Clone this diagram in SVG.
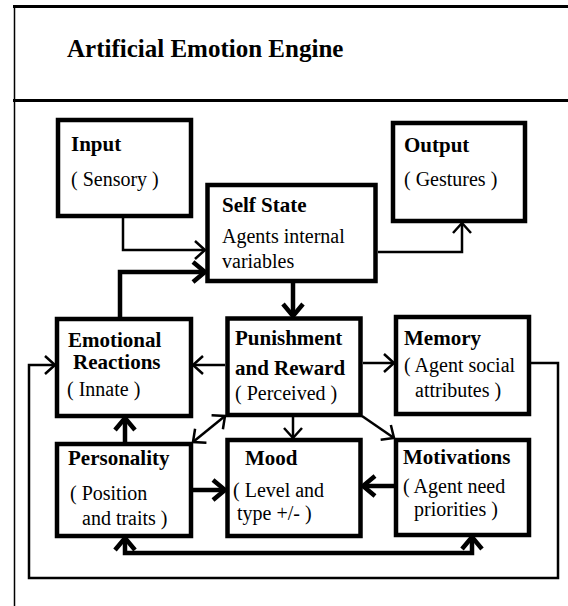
<svg xmlns="http://www.w3.org/2000/svg" width="568" height="606" viewBox="0 0 568 606">
<style>
.box{fill:#fff;stroke:#000;stroke-width:4.5}
.b{font-family:"Liberation Serif","Times New Roman",serif;font-weight:bold;font-size:21px;fill:#000}
.r{font-family:"Liberation Serif","Times New Roman",serif;font-size:20px;fill:#000}
.thin{fill:none;stroke:#000;stroke-width:2.5}
.thick{fill:none;stroke:#000;stroke-width:4.5}
</style>
<defs>
<marker id="at" markerUnits="userSpaceOnUse" viewBox="-12 -11 14 22" refX="0" refY="0" markerWidth="14" markerHeight="22" orient="auto-start-reverse">
<path d="M-10,-9 L0,0 L-10,9" fill="none" stroke="#000" stroke-width="2.5"/>
</marker>
<marker id="aT" markerUnits="userSpaceOnUse" viewBox="-14 -12 16 24" refX="0" refY="0" markerWidth="16" markerHeight="24" orient="auto-start-reverse">
<path d="M-12,-10 L0,0 L-12,10" fill="none" stroke="#000" stroke-width="4.5"/>
</marker>
</defs>
<rect width="568" height="606" fill="#fff"/>
<g id="frame">
<line x1="13" y1="6.5" x2="568" y2="6.5" stroke="#000" stroke-width="3"/>
<line x1="13" y1="100.5" x2="568" y2="100.5" stroke="#000" stroke-width="3"/>
<line x1="14.5" y1="5" x2="14.5" y2="606" stroke="#000" stroke-width="1.5"/>
<text x="67" y="57" font-family="Liberation Serif,Times New Roman,serif" font-weight="bold" font-size="25">Artificial Emotion Engine</text>
</g>
<g id="connectors">
<path class="thin" d="M123,218 V250 H205" marker-end="url(#at)"/>
<path class="thick" d="M120,317 V272 H205" marker-end="url(#aT)"/>
<path class="thin" d="M378,252 H462 V223" marker-end="url(#at)"/>
<path class="thick" d="M293,283 V316" marker-end="url(#aT)"/>
<path class="thin" d="M225,365 H193" marker-end="url(#at)"/>
<path class="thin" d="M363,363 H394" marker-end="url(#at)"/>
<path class="thin" d="M531,363 H558 V578 H29 V365 H55" marker-end="url(#at)"/>
<path class="thick" d="M125,442 V418" marker-end="url(#aT)"/>
<path class="thin" d="M225,416 L193,442" marker-start="url(#at)" marker-end="url(#at)"/>
<path class="thin" d="M293,417 V438" marker-end="url(#at)"/>
<path class="thin" d="M362,416 L394,438" marker-end="url(#at)"/>
<path class="thick" d="M193,490 H225" marker-end="url(#aT)"/>
<path class="thick" d="M394,486 H363" marker-end="url(#aT)"/>
<path class="thick" d="M125,538 V553 H472 V537" marker-start="url(#aT)" marker-end="url(#aT)"/>
</g>
<g id="input"><rect class="box" x="58" y="120" width="133" height="96"/>
<text class="b" x="71" y="151">Input</text><text class="r" x="71" y="186">( Sensory )</text></g>
<g id="output"><rect class="box" x="393" y="123" width="132" height="98"/>
<text class="b" x="404" y="152">Output</text><text class="r" x="404" y="186">( Gestures )</text></g>
<g id="self-state"><rect class="box" x="207.5" y="185" width="168" height="96"/>
<text class="b" x="222" y="212">Self State</text><text class="r" x="222" y="243">Agents internal</text><text class="r" x="222" y="268">variables</text></g>
<g id="emotional-reactions"><rect class="box" x="57" y="319" width="134" height="97"/>
<text class="b" x="68" y="347">Emotional</text><text class="b" x="73" y="369">Reactions</text><text class="r" x="67" y="396">( Innate )</text></g>
<g id="punishment-reward"><rect class="box" x="227.5" y="318.5" width="133" height="96.5"/>
<text class="b" x="235" y="345">Punishment</text><text class="b" x="235" y="375">and Reward</text><text class="r" x="235" y="400">( Perceived )</text></g>
<g id="memory"><rect class="box" x="396" y="317" width="133" height="97"/>
<text class="b" x="404" y="345">Memory</text><text class="r" x="404" y="372">( Agent social</text><text class="r" x="415" y="397">attributes )</text></g>
<g id="personality"><rect class="box" x="57" y="444" width="134" height="92"/>
<text class="b" x="68" y="465">Personality</text><text class="r" x="70" y="500">( Position</text><text class="r" x="82" y="525">and traits )</text></g>
<g id="mood"><rect class="box" x="227.5" y="440" width="133" height="96"/>
<text class="b" x="245" y="465">Mood</text><text class="r" x="233" y="497">( Level and</text><text class="r" x="237" y="520">type +/- )</text></g>
<g id="motivations"><rect class="box" x="396" y="440" width="133" height="95"/>
<text class="b" x="403" y="464">Motivations</text><text class="r" x="403" y="493">( Agent need</text><text class="r" x="414" y="516">priorities )</text></g>
</svg>
